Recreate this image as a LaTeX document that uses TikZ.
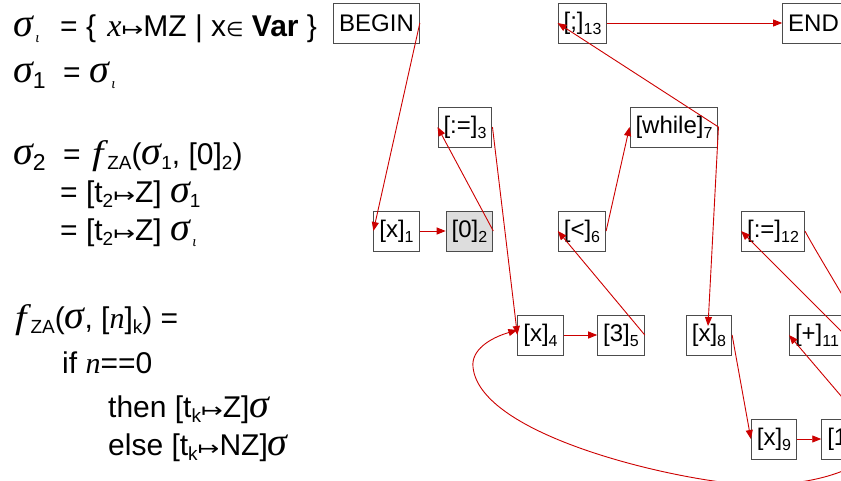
\documentclass[tikz,border=0pt]{standalone}
\usepackage{fontspec}
\setmainfont{Liberation Sans}
\newfontfamily\serif{Liberation Serif}
\newfontfamily\dejavu{DejaVu Sans}
\usetikzlibrary{arrows.meta}

\definecolor{edgered}{RGB}{204,0,0}
\definecolor{boxgray}{RGB}{221,221,221}

% subscripts for the formulas and for the boxes
\newcommand{\lsub}[1]{\raisebox{-6pt}{\fontsize{23}{23}\selectfont #1}}
\newcommand{\ssub}[1]{\raisebox{-5pt}{\fontsize{19}{19}\selectfont #1}}
\newcommand{\bsub}[1]{\raisebox{-5pt}{\fontsize{16}{16}\selectfont #1}}
\newcommand{\lsubi}{\raisebox{-6pt}{\fontsize{15}{15}\selectfont\serif\itshape\,ι}}
\newcommand{\sig}{{\fontsize{40}{42}\selectfont\serif\itshape σ}}
\newcommand{\fsym}{\kern3pt\scalebox{1.2}[1]{\fontsize{34}{40}\selectfont\serif\itshape f}\kern4pt}
\newcommand{\ital}[1]{{\serif\itshape #1}}
\newcommand{\mapsym}{\scalebox{1.3}[1]{\fontsize{20}{20}\selectfont\dejavu ↦}}
\newcommand{\elem}{{\fontsize{20}{20}\selectfont\dejavu ∈}}

\begin{document}
\begin{tikzpicture}[
  x=1pt, y=1pt,
  font=\fontsize{30}{36}\selectfont,
  blk/.style={draw=black!70, line width=1pt, fill=white, minimum height=40pt,
    inner xsep=5.5pt, inner ysep=0pt, font=\fontsize{24}{28}\selectfont},
  shaded/.style={blk, fill=boxgray},
  flow/.style={-{Triangle[length=9pt,width=7pt]}, line width=0.9pt, edgered},
  formula/.style={anchor=base west, inner sep=0pt}
]
\useasboundingbox (0,0) rectangle (841,-480);
\clip (0,0) rectangle (841,-480);

% formulas on the left
\node[formula] (sigi) at (13,-36) {\sig\lsubi};
\node[formula] (eqi) at (60,-36) {= \{\hspace{3pt} {\fontsize{32}{36}\selectfont\ital{x}}\mapsym MZ | x\elem\ \textbf{Var} \}};
\node[formula] (sig1) at (13,-82) {\sig\lsub{1}};
\node[formula] (eq1) at (63,-82) {= \sig\lsubi};
\node[formula] (sig2) at (13,-164) {\sig\lsub{2}};
\node[formula] (eq2) at (63,-164) {= \fsym\ssub{ZA}(\sig\ssub{1}, [0]\ssub{2})};
\node[formula] (eq2b) at (60,-202) {= [t\ssub{2}\mapsym Z] \sig\ssub{1}};
\node[formula] (eq2c) at (60,-240) {= [t\ssub{2}\mapsym Z] \sig\lsubi};
\node[formula] (fza) at (12,-328) {\fsym\ssub{ZA}(\sig, [\ital{n}]\ssub{k}) =};
\node[formula] (fzaif) at (62,-373) {if \ital{n}==0};
\node[formula] (fzathen) at (108,-417) {then [t\ssub{k}\mapsym Z]\sig};
\node[formula] (fzaelse) at (108,-455) {else [t\ssub{k}\mapsym NZ]\sig};

% flow graph
\node[blk] (begin) at (376.5,-23) {BEGIN};
\node[blk] (seq13) at (582.5,-23) {[;]\bsub{13}};
\node[blk] (end) at (813.5,-23) {END};
\node[blk] (asg3) at (465,-127) {[:=]\bsub{3}};
\node[blk] (while7) at (674,-127) {[while]\bsub{7}};
\node[blk] (x1) at (396.5,-231) {[x]\bsub{1}};
\node[shaded] (zero2) at (469.5,-231) {[0]\bsub{2}};
\node[blk] (lt6) at (582,-231) {[<]\bsub{6}};
\node[blk] (asg12) at (773,-231) {[:=]\bsub{12}};
\node[blk] (x4) at (540.5,-335) {[x]\bsub{4}};
\node[blk] (three5) at (621,-335) {[3]\bsub{5}};
\node[blk] (x8) at (709,-335) {[x]\bsub{8}};
\node[blk] (plus11) at (817,-335) {[+]\bsub{11}};
\node[blk] (x9) at (774,-439) {[x]\bsub{9}};
\node[blk] (one10) at (849.5,-439) {[1]\bsub{10}};

\foreach \a/\b in {begin/x1,x1/zero2,zero2/asg3,asg3/x4,x4/three5,three5/lt6,lt6/while7,while7/seq13,seq13/end,x8/x9,x9/one10,one10/plus11,plus11/asg12}
  \draw[flow] (\a.east) -- (\b.west);
\draw[flow] (while7.east) -- ([xshift=-1pt,yshift=9pt]x8.center);
% loop back from the body to the test
\draw[flow] (asg12.east) .. controls (840,-295) and (920,-410) .. (890,-440)
  .. controls (860,-470) and (820,-484) .. (760,-485)
  .. controls (700,-486) and (480,-440) .. (473,-367)
  .. controls (471,-350) and (490,-338) .. ([yshift=5pt]x4.west);
\end{tikzpicture}
\end{document}
